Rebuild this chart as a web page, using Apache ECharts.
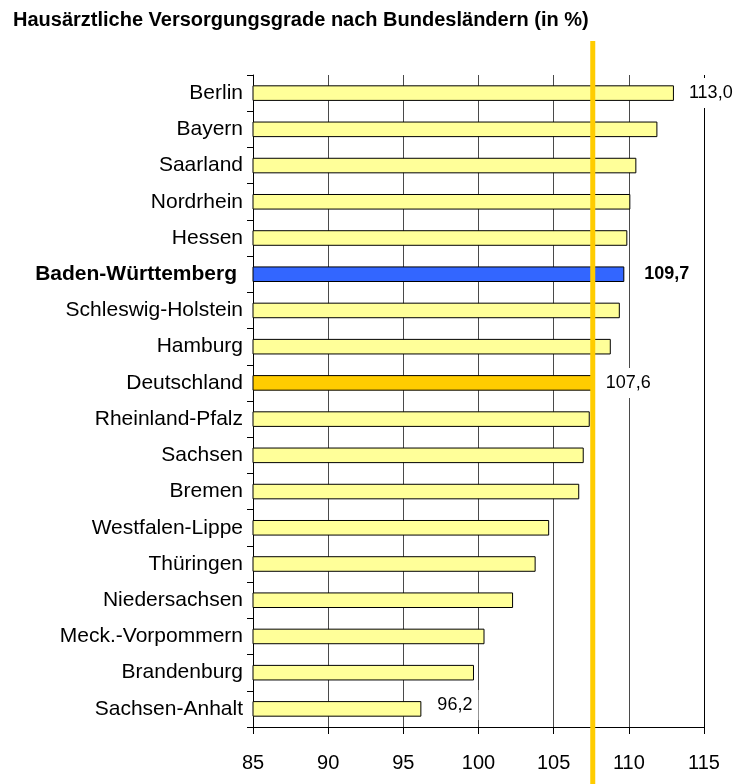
<!DOCTYPE html>
<html>
<head>
<meta charset="utf-8">
<script src="https://cdn.jsdelivr.net/npm/echarts@6/dist/echarts.min.js"></script>
<style>
  html, body { margin: 0; padding: 0; background: #fff; }
  #chart { width: 736px; height: 784px; }
</style>
</head>
<body>
<div id="chart"></div>
<script>
// Hausärztliche Versorgungsgrade je Kassenärztlicher Vereinigung (in %)
const categories = [
  'Berlin', 'Bayern', 'Saarland', 'Nordrhein', 'Hessen', 'Baden-Württemberg',
  'Schleswig-Holstein', 'Hamburg', 'Deutschland', 'Rheinland-Pfalz', 'Sachsen',
  'Bremen', 'Westfalen-Lippe', 'Thüringen', 'Niedersachsen', 'Meck.-Vorpommern',
  'Brandenburg', 'Sachsen-Anhalt'
];
const values = [
  113.0, 111.9, 110.5, 110.1, 109.9, 109.7,
  109.4, 108.8, 107.6, 107.4, 107.0,
  106.7, 104.7, 103.8, 102.3, 100.4,
  99.7, 96.2
];
const xTicks = [85, 90, 95, 100, 105, 110, 115];
const labelledNames = ['Berlin', 'Baden-Württemberg', 'Deutschland', 'Sachsen-Anhalt'];
const highlightName = 'Baden-Württemberg';
const nationalName = 'Deutschland';

const FONT = '"Liberation Sans", Arial, sans-serif';
const fmt = v => v.toFixed(1).replace('.', ',');

// per-bar styling
const barColor = name =>
  name === highlightName ? '#3366FF' : name === nationalName ? '#FFCC00' : '#FFFF99';
const labelStyle = {
  'Berlin': { distance: 9 },
  'Baden-Württemberg': { distance: 14, fontWeight: 'bold' },
  'Deutschland': { distance: 7 },
  'Sachsen-Anhalt': { distance: 10, offset: [0, -4] }
};

const seriesData = categories.map((name, i) => {
  const item = {
    value: values[i],
    itemStyle: { color: barColor(name), borderColor: '#000', borderWidth: 1 }
  };
  if (labelledNames.includes(name)) {
    const s = labelStyle[name] || {};
    item.label = {
      show: true,
      position: 'right',
      distance: s.distance,
      offset: s.offset || [0, 0],
      formatter: p => fmt(p.value),
      fontFamily: FONT,
      fontSize: 18,
      fontWeight: s.fontWeight || 'normal',
      color: '#000',
      backgroundColor: '#fff',
      padding: [6, 6]
    };
  }
  return item;
});

const chart = echarts.init(document.getElementById('chart'), null, { renderer: 'canvas' });

chart.setOption({
  animation: false,
  backgroundColor: '#fff',
  title: {
    text: 'Hausärztliche Versorgungsgrade nach Bundesländern (in %)',
    left: 13,
    top: 10,
    padding: 0,
    textStyle: { fontFamily: FONT, fontSize: 20, fontWeight: 'bold', color: '#000' }
  },
  grid: { left: 253, right: 32, top: 75, bottom: 57, containLabel: false },
  xAxis: {
    type: 'value',
    min: xTicks[0],
    max: xTicks[xTicks.length - 1],
    interval: xTicks[1] - xTicks[0],
    axisLine: { show: true, lineStyle: { color: '#000', width: 1 } },
    axisTick: { show: true, length: 7, lineStyle: { color: '#000' } },
    axisLabel: {
      fontFamily: FONT, fontSize: 20, color: '#000', margin: 26,
      formatter: v => String(v)
    },
    splitLine: {
      show: true,
      lineStyle: { color: ['#000', '#4a4a4a', '#4a4a4a', '#4a4a4a', '#4a4a4a', '#4a4a4a', '#000'], width: 1 }
    }
  },
  yAxis: {
    type: 'category',
    inverse: true,
    data: categories,
    axisLine: { show: true, lineStyle: { color: '#000', width: 1 } },
    axisTick: { show: true, length: 6, lineStyle: { color: '#000' } },
    axisLabel: {
      fontFamily: FONT, fontSize: 21, color: '#000', margin: 10,
      formatter: v => v === highlightName ? '{hl|' + v + '}' : v,
      rich: {
        hl: { fontFamily: FONT, fontSize: 21, fontWeight: 'bold', color: '#000', padding: [0, 6, 0, 0] }
      }
    }
  },
  series: [{
    type: 'bar',
    data: seriesData,
    barWidth: '43%',
    z: 2
  }]
});

// national average reference line, placed through the value axis scale
const natIdx = categories.indexOf(nationalName);
const xNat = chart.convertToPixel({ xAxisIndex: 0 }, values[natIdx]);
chart.setOption({
  graphic: [{
    type: 'line',
    z: 100,
    shape: { x1: xNat, y1: 41, x2: xNat, y2: 784 },
    style: { stroke: '#FFCC00', lineWidth: 5 }
  }]
});
</script>
</body>
</html>
